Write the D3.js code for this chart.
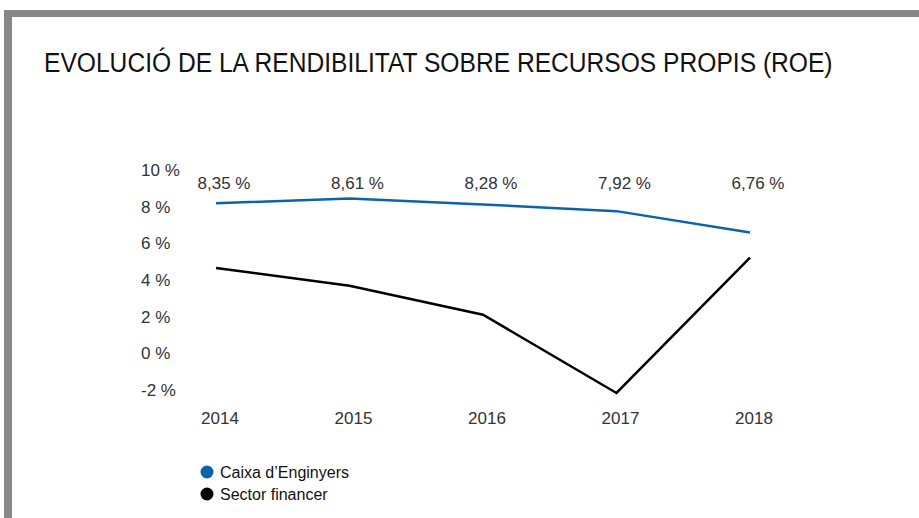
<!DOCTYPE html>
<meta charset="utf-8">
<script src="https://cdn.jsdelivr.net/npm/d3@7"></script>
<style>
body { margin: 0; background: #fff; }
text { font-family: "Liberation Sans", Arial, sans-serif; fill: #333; }
.title { font-family: "Liberation Sans Narrow", "Liberation Sans", sans-serif; fill: #111; }
</style>
<body>
<script>

// data
var years = ["2014", "2015", "2016", "2017", "2018"];
var caixa = [8.35, 8.61, 8.28, 7.92, 6.76];
var sector = [4.82, 3.85, 2.27, -2.0, 5.38];
var caixaLabels = ["8,35 %", "8,61 %", "8,28 %", "7,92 %", "6,76 %"];
var yTicks = [10, 8, 6, 4, 2, 0, -2];
var seriesNames = ["Caixa d\u2019Enginyers", "Sector financer"];
var seriesColors = ["#0b62ad", "#000000"];

var width = 919,
    height = 518;

var svg = d3.select("body").append("svg")
    .attr("width", width)
    .attr("height", height);

// grey frame, top and left
svg.append("rect").attr("x", 4).attr("y", 10).attr("width", width - 4).attr("height", 7).attr("fill", "#878787");
svg.append("rect").attr("x", 4).attr("y", 10).attr("width", 8).attr("height", height - 10).attr("fill", "#878787");

// title squeezed horizontally to look like the condensed face
var title = svg.append("text")
    .attr("class", "title")
    .attr("font-size", 28)
    .text("EVOLUCI\u00d3 DE LA RENDIBILITAT SOBRE RECURSOS PROPIS (ROE)");
var tw = title.node().getComputedTextLength();
title.attr("transform", "translate(44,72) scale(" + (789 / tw) + ",1)");

var x = d3.scalePoint()
    .domain(years)
    .range([216, 750]);

var y = d3.scaleLinear()
    .domain([-2, 10])
    .range([393, 173]);

// y tick labels (no axis line drawn in the original)
svg.append("g").selectAll("text")
    .data(yTicks)
    .enter().append("text")
    .attr("x", 141)
    .attr("y", function(d) { return y(d) - 3; })
    .attr("dy", "0.35em")
    .attr("font-size", 17)
    .text(function(d) { return d + " %"; });

// year labels
svg.append("g").selectAll("text")
    .data(years)
    .enter().append("text")
    .attr("x", function(d) { return x(d) + 4; })
    .attr("y", 424)
    .attr("text-anchor", "middle")
    .attr("font-size", 17)
    .text(function(d) { return d; });

// value labels for Caixa
svg.append("g").selectAll("text")
    .data(caixaLabels)
    .enter().append("text")
    .attr("x", function(d, i) { return x(years[i]) + 8; })
    .attr("y", 189)
    .attr("text-anchor", "middle")
    .attr("font-size", 17)
    .text(function(d) { return d; });

var line = d3.line()
    .x(function(d, i) { return x(years[i]); })
    .y(function(d) { return y(d); });

[caixa, sector].forEach(function(s, k) {
  svg.append("path")
      .datum(s)
      .attr("d", line)
      .attr("fill", "none")
      .attr("stroke", seriesColors[k])
      .attr("stroke-width", 2.5);
});

// legend
var legend = svg.append("g").selectAll("g")
    .data(seriesNames)
    .enter().append("g")
    .attr("transform", function(d, i) { return "translate(207," + (472 + i * 22) + ")"; });

legend.append("circle")
    .attr("r", 6.5)
    .attr("fill", function(d, i) { return seriesColors[i]; });

legend.append("text")
    .attr("x", 13)
    .attr("dy", "0.35em")
    .attr("font-size", 16)
    .style("fill", "#111")
    .text(function(d) { return d; });

</script>
</body>
</html>
